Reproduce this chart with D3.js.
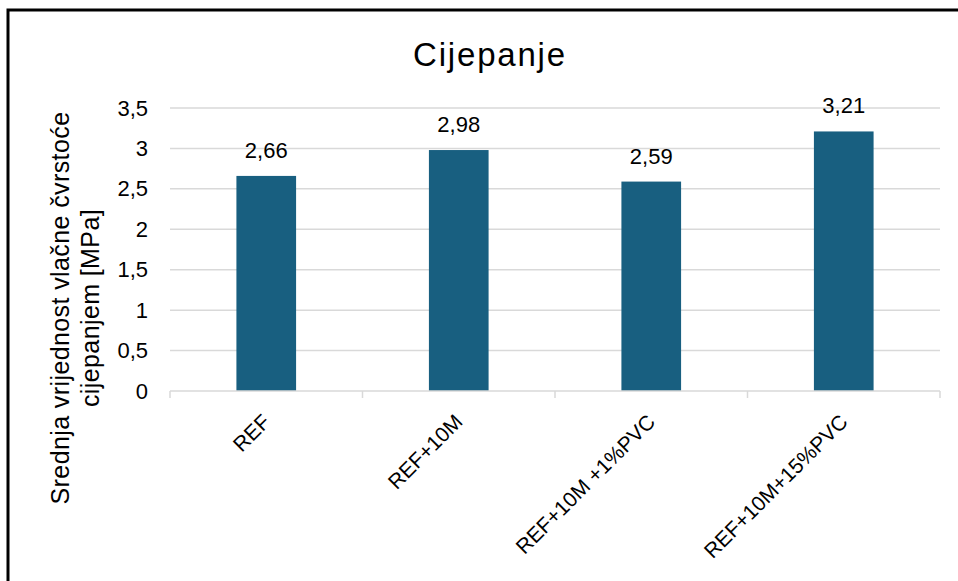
<!DOCTYPE html>
<html>
<head>
<meta charset="utf-8">
<script src="https://cdn.jsdelivr.net/npm/d3@7"></script>
<style>
  body { margin: 0; background: #fff; }
  svg { font-family: "Liberation Sans", Arial, sans-serif; }
</style>
</head>
<body>
<script>
// values
var categories = ["REF", "REF+10M", "REF+10M +1%PVC", "REF+10M+15%PVC"];
var values = [2.66, 2.98, 2.59, 3.21];
var yTicks = [0, 0.5, 1, 1.5, 2, 2.5, 3, 3.5];

var W = 958, H = 581;
var margin = {top: 108, right: 18, bottom: 190, left: 170};
var width = W - margin.left - margin.right,
    height = H - margin.top - margin.bottom;

var fmt = function(v) { return String(v).replace(".", ","); };

var svg = d3.select("body").append("svg")
  .attr("width", W)
  .attr("height", H);

// outer chart frame (runs past the right and bottom edges)
svg.append("rect")
  .attr("x", 8).attr("y", 10)
  .attr("width", W + 20).attr("height", H + 20)
  .attr("fill", "none")
  .attr("stroke", "#000")
  .attr("stroke-width", 3);

var x = d3.scaleBand()
  .domain(categories)
  .range([0, width])
  .paddingInner(0.69)
  .paddingOuter(0.345);

var y = d3.scaleLinear()
  .domain([0, 3.5])
  .range([height, 0]);

var main = svg.append("g")
  .attr("transform", "translate(" + margin.left + "," + margin.top + ")");

// gridlines
main.append("g")
  .selectAll("line")
  .data(yTicks.filter(function(d) { return d > 0; }))
  .enter().append("line")
  .attr("x1", 0).attr("x2", width)
  .attr("y1", function(d) { return y(d); })
  .attr("y2", function(d) { return y(d); })
  .attr("stroke", "#d9d9d9")
  .attr("stroke-width", 1.5);

// y axis (labels only)
var yAxis = d3.axisLeft(y).tickValues(yTicks).tickFormat(fmt).tickSize(0).tickPadding(22);
var gy = main.append("g").call(yAxis);
gy.select(".domain").remove();
gy.selectAll("text")
  .attr("font-size", 22)
  .attr("fill", "#000")
  .attr("font-family", "Liberation Sans, Arial, sans-serif");

// bars
main.append("g")
  .selectAll("rect")
  .data(values)
  .enter().append("rect")
  .attr("x", function(d, i) { return x(categories[i]); })
  .attr("y", function(d) { return y(d); })
  .attr("width", x.bandwidth())
  .attr("height", function(d) { return height - y(d); })
  .attr("fill", "#185f80");

// data labels
main.append("g")
  .selectAll("text")
  .data(values)
  .enter().append("text")
  .attr("x", function(d, i) { return x(categories[i]) + x.bandwidth() / 2; })
  .attr("y", function(d) { return y(d) - 18; })
  .attr("text-anchor", "middle")
  .attr("font-size", 22)
  .attr("fill", "#000")
  .text(fmt);

// x axis with category ticks at band edges
var step = x.step();
var gx = main.append("g").attr("transform", "translate(0," + height + ")");
gx.append("line")
  .attr("x1", 0).attr("x2", width)
  .attr("stroke", "#d9d9d9").attr("stroke-width", 1.5);
gx.selectAll(".tk")
  .data(d3.range(categories.length + 1))
  .enter().append("line")
  .attr("x1", function(i) { return i * step; })
  .attr("x2", function(i) { return i * step; })
  .attr("y1", 0).attr("y2", 7)
  .attr("stroke", "#d9d9d9").attr("stroke-width", 1.5);
gx.selectAll(".lbl")
  .data(categories)
  .enter().append("text")
  .attr("transform", function(d) {
    return "translate(" + (x(d) + x.bandwidth() / 2) + ",27) rotate(-45)";
  })
  .attr("text-anchor", "end")
  .attr("dy", "0.35em")
  .attr("font-size", 21)
  .attr("fill", "#000")
  .text(function(d) { return d; });

// title
svg.append("text")
  .attr("x", 490)
  .attr("y", 66)
  .attr("text-anchor", "middle")
  .attr("font-size", 33)
  .attr("letter-spacing", 1.8)
  .attr("fill", "#000")
  .text("Cijepanje");

// y axis title, two lines
var yt = svg.append("text")
  .attr("transform", "translate(69,308) rotate(-90)")
  .attr("text-anchor", "middle")
  .attr("font-size", 25)
  .attr("letter-spacing", 0.4)
  .attr("fill", "#000");
yt.append("tspan").attr("x", 0).attr("dy", 0).text("Srednja vrijednost vlačne čvrstoće");
yt.append("tspan").attr("x", 0).attr("dy", 30).text("cijepanjem [MPa]");
</script>
</body>
</html>
